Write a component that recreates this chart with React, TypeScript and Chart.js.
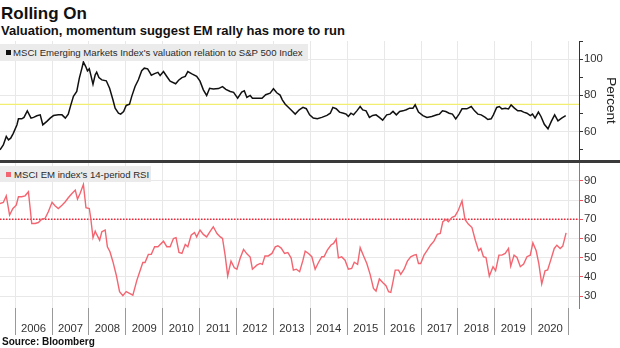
import React, { useEffect, useRef } from "react";
import { Chart, registerables } from "chart.js";

Chart.register(...registerables);

const FONT = "'Liberation Sans', Arial, sans-serif";

const X_MIN = 2005.59;
const X_MAX = 2021.28;

const yearBoundaries = [2006, 2007, 2008, 2009, 2010, 2011, 2012, 2013, 2014, 2015, 2016, 2017, 2018, 2019, 2020, 2021];
const yearLabels = ["2006", "2007", "2008", "2009", "2010", "2011", "2012", "2013", "2014", "2015", "2016", "2017", "2018", "2019", "2020"];

const valuationTicks = [50, 60, 70, 80, 90, 100, 110];
const rsiTicks = [30, 40, 50, 60, 70, 80, 90];

const valuationAverage = 75;
const rsiOverbought = 70;

const valuationDates = [
  2005.59, 2005.68, 2005.76, 2005.82, 2005.88, 2005.95, 2006.05, 2006.09, 2006.18, 2006.24,
  2006.33, 2006.43, 2006.5, 2006.59, 2006.68, 2006.75, 2006.86, 2006.95, 2007.04, 2007.17,
  2007.27, 2007.36, 2007.44, 2007.51, 2007.58, 2007.67, 2007.74, 2007.81, 2007.85, 2007.91,
  2007.96, 2008.01, 2008.05, 2008.11, 2008.17, 2008.21, 2008.27, 2008.35, 2008.47, 2008.56,
  2008.65, 2008.71, 2008.8, 2008.86, 2008.94, 2009.01, 2009.1, 2009.16, 2009.25, 2009.34,
  2009.43, 2009.5, 2009.59, 2009.66, 2009.69, 2009.78, 2009.87, 2009.93, 2010.02, 2010.11,
  2010.2, 2010.35, 2010.43, 2010.52, 2010.61, 2010.68, 2010.79, 2010.92, 2011.01, 2011.1,
  2011.19, 2011.27, 2011.37, 2011.51, 2011.62, 2011.71, 2011.83, 2011.92, 2012.03, 2012.14,
  2012.21, 2012.28, 2012.37, 2012.43, 2012.55, 2012.69, 2012.79, 2012.91, 2013.0, 2013.09,
  2013.18, 2013.24, 2013.32, 2013.41, 2013.5, 2013.59, 2013.7, 2013.8, 2013.89, 2013.98,
  2014.08, 2014.19, 2014.31, 2014.45, 2014.54, 2014.61, 2014.7, 2014.79, 2014.9, 2014.97,
  2015.03, 2015.1, 2015.17, 2015.26, 2015.35, 2015.42, 2015.51, 2015.6, 2015.69, 2015.78,
  2015.87, 2015.96, 2016.07, 2016.16, 2016.24, 2016.33, 2016.42, 2016.51, 2016.6, 2016.69,
  2016.78, 2016.84, 2016.93, 2017.05, 2017.16, 2017.29, 2017.43, 2017.5, 2017.58, 2017.67,
  2017.76, 2017.85, 2017.94, 2018.03, 2018.11, 2018.24, 2018.36, 2018.45, 2018.54, 2018.63,
  2018.74, 2018.81, 2018.9, 2018.96, 2019.05, 2019.12, 2019.19, 2019.28, 2019.37, 2019.44,
  2019.53, 2019.62, 2019.71, 2019.78, 2019.87, 2019.96, 2020.02, 2020.09, 2020.18, 2020.25,
  2020.34, 2020.44, 2020.53, 2020.62, 2020.71, 2020.81, 2020.92,
];

const valuationValues = [
  49.9, 52.6, 57.3, 55.4, 56.3, 59, 63.7, 67, 67, 67.8,
  71.4, 67.4, 67.8, 68.7, 69.2, 63.7, 65.6, 67.4, 68.8, 69.2,
  69.2, 67.4, 69.6, 74.7, 79.4, 82.1, 89.5, 95, 98.4, 96,
  93.5, 94.6, 91.3, 86.1, 91.3, 92.8, 89.8, 88.5, 88, 83.9,
  77.5, 72.9, 70.1, 69.6, 71, 74.4, 75.1, 79.4, 84.9, 88.6,
  93.6, 95, 94.6, 92.2, 91.1, 92, 92.7, 90.9, 93.1, 90.4,
  87.8, 86.4, 88.3, 89.8, 90.4, 93.1, 91.8, 90.5, 87.8, 83,
  79.9, 83.9, 83.5, 83.7, 84.8, 83.3, 82.1, 81.6, 78.4, 81.8,
  82.5, 78.8, 79.9, 78.4, 78.4, 78.4, 80.3, 81.2, 83.6, 81.4,
  80.1, 77.5, 75.1, 73.3, 71.5, 69.6, 72, 73.3, 72.6, 69.2,
  67.4, 67, 67.8, 68.9, 70.1, 73.3, 72.6, 70.7, 70.1, 69.6,
  68.3, 70.1, 69.2, 71.4, 73.8, 71.9, 71.4, 67.8, 68.9, 69.2,
  67.8, 66.3, 69.2, 69.6, 71.1, 69.2, 71.1, 71.4, 72, 72.9,
  72.9, 74.7, 70.7, 68.8, 67.8, 68.3, 69.2, 69.6, 71.4, 71,
  70.1, 69.6, 67, 69.6, 72.5, 72.5, 73.8, 71.4, 69.6, 69.2,
  67.8, 66.6, 67, 69.2, 73.3, 73.8, 72.5, 72.9, 72.5, 74.7,
  72.9, 71.4, 71.4, 70.7, 70.1, 68.8, 69.6, 67.4, 70.7, 68.3,
  64, 61.5, 65.6, 69.2, 65.9, 67.4, 68.8,
];

const rsiDates = [
  2005.59, 2005.68, 2005.76, 2005.85, 2005.94, 2006.03, 2006.09, 2006.18, 2006.27, 2006.36,
  2006.45, 2006.54, 2006.63, 2006.72, 2006.81, 2006.9, 2007.0, 2007.08, 2007.17, 2007.27,
  2007.36, 2007.44, 2007.54, 2007.63, 2007.69, 2007.76, 2007.85, 2007.92, 2008.01, 2008.05,
  2008.11, 2008.17, 2008.21, 2008.29, 2008.35, 2008.44, 2008.5, 2008.57, 2008.65, 2008.74,
  2008.83, 2008.92, 2009.01, 2009.1, 2009.19, 2009.3, 2009.39, 2009.46, 2009.52, 2009.61,
  2009.69, 2009.78, 2009.87, 2010.02, 2010.11, 2010.2, 2010.29, 2010.36, 2010.44, 2010.52,
  2010.61, 2010.68, 2010.77, 2010.86, 2010.92, 2011.01, 2011.1, 2011.19, 2011.28, 2011.37,
  2011.47, 2011.56, 2011.62, 2011.69, 2011.76, 2011.85, 2011.94, 2012.01, 2012.1, 2012.19,
  2012.28, 2012.37, 2012.43, 2012.55, 2012.64, 2012.7, 2012.77, 2012.86, 2012.96, 2013.05,
  2013.12, 2013.21, 2013.3, 2013.39, 2013.48, 2013.54, 2013.62, 2013.71, 2013.8, 2013.86,
  2013.95, 2014.04, 2014.13, 2014.22, 2014.31, 2014.37, 2014.46, 2014.56, 2014.63, 2014.7,
  2014.76, 2014.85, 2014.94, 2015.03, 2015.12, 2015.19, 2015.28, 2015.35, 2015.44, 2015.53,
  2015.62, 2015.71, 2015.78, 2015.87, 2015.96, 2016.05, 2016.12, 2016.18, 2016.24, 2016.3,
  2016.39, 2016.45, 2016.54, 2016.63, 2016.72, 2016.81, 2016.87, 2016.93, 2016.99, 2017.08,
  2017.17, 2017.26, 2017.35, 2017.44, 2017.52, 2017.59, 2017.68, 2017.74, 2017.84, 2017.92,
  2018.01, 2018.11, 2018.15, 2018.19, 2018.28, 2018.38, 2018.47, 2018.56, 2018.62, 2018.69,
  2018.76, 2018.85, 2018.95, 2019.02, 2019.11, 2019.19, 2019.28, 2019.37, 2019.43, 2019.52,
  2019.6, 2019.69, 2019.78, 2019.87, 2019.96, 2020.03, 2020.12, 2020.19, 2020.27, 2020.36,
  2020.43, 2020.52, 2020.61, 2020.68, 2020.77, 2020.84, 2020.93,
];

const rsiValues = [
  78.2, 78.7, 82.2, 72.2, 75.6, 77.3, 81.7, 81.7, 82.2, 84.3,
  67.8, 67.8, 68.3, 70, 70.4, 73.9, 78.8, 77, 75.6, 77.3,
  79.1, 81.2, 83.4, 85.2, 80.5, 83.4, 88.1, 76, 75.6, 70.4,
  60.4, 63.8, 62.1, 59.1, 63.5, 64.4, 55.7, 53.1, 47.9, 41,
  32.3, 30.2, 32.3, 31.4, 30.5, 38.3, 43.5, 47.5, 47.5, 51.7,
  51.7, 55.7, 55.7, 58.6, 55.7, 55.7, 60, 60.4, 52.7, 52.2,
  56.9, 55.7, 61.7, 63.1, 60.8, 64.4, 62.1, 60.8, 63.5, 66.1,
  62.6, 60.8, 60, 51.3, 40.5, 48.2, 44.7, 44, 49.8, 54.3,
  52, 50.3, 44, 46.1, 47, 46.5, 50.9, 50.9, 52.2, 55.6,
  56.2, 55, 52.2, 52.7, 49.8, 43.5, 44, 42.7, 48.7, 53.4,
  52.2, 50.5, 44, 47.5, 50.5, 50.5, 53.9, 56.6, 57.4, 59.7,
  49.9, 50.4, 48.7, 44, 44.4, 47.6, 46.5, 55.2, 51, 47,
  41.3, 34, 32.6, 38.9, 37.1, 35.4, 32.3, 31.9, 37.5, 43.5,
  43.5, 41.3, 44, 48.2, 50.4, 51.3, 51.6, 47, 47, 51.3,
  53.9, 56.6, 58.6, 62.1, 62.6, 68.7, 69.9, 68.7, 71, 71.6,
  74.7, 79.6, 74.7, 69.9, 67.5, 65.7, 59.1, 53.6, 54.8, 50.5,
  50.1, 40.4, 45.3, 43.2, 51.3, 51.3, 52.2, 54.8, 45.6, 51.3,
  50.1, 45.3, 46.7, 50.5, 51.3, 57.7, 53.6, 47, 36.3, 43.2,
  43.6, 49.1, 54.8, 56.5, 54.8, 56, 62.9,
];

const pairs = (xs: number[], ys: number[]) => xs.map((x, i) => ({ x, y: ys[i] }));

const isBoundary = (v: number) => Math.abs(v - Math.round(v)) < 1e-6;

function zeroPad(s: any) {
  s.paddingTop = 0;
  s.paddingBottom = 0;
  s.paddingLeft = 0;
  s.paddingRight = 0;
}

export default function App() {
  const topRef = useRef<HTMLCanvasElement | null>(null);
  const botRef = useRef<HTMLCanvasElement | null>(null);

  useEffect(() => {
    Chart.defaults.font.family = FONT;
    const tickFont = { family: FONT, size: 11.3 };

    const topChart = new Chart(topRef.current as HTMLCanvasElement, {
      type: "line",
      data: {
        datasets: [
          {
            data: pairs(valuationDates, valuationValues),
            borderColor: "#111111",
            borderWidth: 1.5,
            pointRadius: 0,
            tension: 0,
            order: 1,
          },
          {
            data: [
              { x: X_MIN, y: valuationAverage },
              { x: X_MAX, y: valuationAverage },
            ],
            borderColor: "#f2ee72",
            borderWidth: 1.4,
            pointRadius: 0,
            order: 2,
          },
        ],
      },
      options: {
        responsive: false,
        animation: false,
        events: [],
        layout: { padding: 0 },
        plugins: { legend: { display: false }, tooltip: { enabled: false }, title: { display: false } },
        scales: {
          x: {
            type: "linear",
            min: X_MIN,
            max: X_MAX,
            afterBuildTicks: (s: any) => {
              s.ticks = yearBoundaries.map((v) => ({ value: v }));
            },
            ticks: { display: false },
            grid: { color: "#e8e8e8", drawTicks: false, lineWidth: 1 },
            border: { display: false },
            afterFit: (s: any) => {
              s.height = 0;
              zeroPad(s);
            },
          },
          y: {
            type: "linear",
            position: "right",
            min: 44.25,
            max: 110,
            afterBuildTicks: (s: any) => {
              s.ticks = valuationTicks.map((v) => ({ value: v }));
            },
            ticks: {
              color: "#333333",
              font: tickFont,
              padding: 1,
              callback: (v: any) => (Number(v) % 20 === 0 ? String(v) : ""),
            },
            grid: {
              color: (ctx: any) => (ctx.tick && ctx.tick.value % 20 === 0 && ctx.tick.value !== 110 ? "#e8e8e8" : "rgba(0,0,0,0)"),
              tickColor: "#333333",
              tickLength: 4,
            },
            border: { color: "#333333", width: 1 },
            title: {
              display: true,
              text: "Percent",
              color: "#222222",
              font: { family: FONT, size: 13.5 },
              padding: { top: 1, bottom: 0 },
            },
            afterFit: (s: any) => {
              s.width = 41;
              zeroPad(s);
            },
          },
        },
      },
    } as any);

    const botChart = new Chart(botRef.current as HTMLCanvasElement, {
      type: "line",
      data: {
        datasets: [
          {
            data: pairs(rsiDates, rsiValues),
            borderColor: "#f36570",
            borderWidth: 1.4,
            pointRadius: 0,
            tension: 0,
            order: 1,
          },
          {
            data: [
              { x: X_MIN, y: rsiOverbought },
              { x: X_MAX, y: rsiOverbought },
            ],
            borderColor: "#ea2a3a",
            borderWidth: 1.3,
            borderDash: [1.5, 1.5],
            pointRadius: 0,
            order: 2,
          },
        ],
      },
      options: {
        responsive: false,
        animation: false,
        events: [],
        layout: { padding: 0 },
        plugins: { legend: { display: false }, tooltip: { enabled: false }, title: { display: false } },
        scales: {
          x: {
            type: "linear",
            min: X_MIN,
            max: X_MAX,
            afterBuildTicks: (s: any) => {
              const t: { value: number }[] = [];
              yearBoundaries.forEach((v, i) => {
                t.push({ value: v });
                if (i < yearLabels.length) t.push({ value: v + 0.5 });
              });
              s.ticks = t;
            },
            ticks: {
              color: "#333333",
              font: tickFont,
              padding: -13,
              maxRotation: 0,
              minRotation: 0,
              autoSkip: false,
              callback: (v: any) => {
                const n = Number(v);
                if (isBoundary(n)) return "";
                const idx = yearBoundaries.indexOf(Math.floor(n));
                return idx >= 0 && idx < yearLabels.length ? yearLabels[idx] : "";
              },
            },
            grid: {
              color: (ctx: any) => (ctx.tick && isBoundary(ctx.tick.value) ? "#e8e8e8" : "rgba(0,0,0,0)"),
              tickColor: (ctx: any) => (ctx.tick && isBoundary(ctx.tick.value) ? "#999999" : "rgba(0,0,0,0)"),
              tickLength: 27,
              lineWidth: 1,
            },
            border: { display: false },
            afterFit: (s: any) => {
              s.height = 40;
              zeroPad(s);
            },
          },
          y: {
            type: "linear",
            position: "right",
            min: 23.8,
            max: 99.8,
            afterBuildTicks: (s: any) => {
              s.ticks = rsiTicks.map((v) => ({ value: v }));
            },
            ticks: {
              color: "#333333",
              font: tickFont,
              padding: 1,
            },
            grid: {
              color: "#e8e8e8",
              tickColor: "#f0505e",
              tickLength: 4,
            },
            border: { color: "#f0505e", width: 1 },
            afterFit: (s: any) => {
              s.width = 41;
              zeroPad(s);
            },
          },
        },
      },
    } as any);

    return () => {
      topChart.destroy();
      botChart.destroy();
    };
  }, []);

  const legendBox: React.CSSProperties = {
    position: "absolute",
    left: 0,
    display: "flex",
    alignItems: "center",
    background: "#ebebeb",
    fontFamily: FONT,
    fontSize: 9.6,
    color: "#2a2a2a",
    whiteSpace: "nowrap",
    boxSizing: "border-box",
  };

  return (
    <div
      style={{
        position: "absolute",
        left: 0,
        top: 0,
        width: 620,
        height: 348,
        background: "#ffffff",
        overflow: "hidden",
        fontFamily: FONT,
      }}
    >
      <div style={{ position: "absolute", left: 1, top: 5, fontSize: 17, lineHeight: "17px", fontWeight: 700, color: "#111" }}>
        Rolling On
      </div>
      <div style={{ position: "absolute", left: 1, top: 24, fontSize: 13, lineHeight: "13px", fontWeight: 700, color: "#111" }}>
        Valuation, momentum suggest EM rally has more to run
      </div>

      <canvas ref={topRef} width={620} height={119} style={{ position: "absolute", left: 0, top: 41, display: "block" }} />
      <canvas ref={botRef} width={620} height={186} style={{ position: "absolute", left: 0, top: 162, display: "block" }} />

      <div style={{ position: "absolute", left: 0, top: 160, width: 620, height: 3, background: "#3a3a3a" }} />

      <div style={{ ...legendBox, top: 44, height: 17, paddingLeft: 6, paddingRight: 5 }}>
        <span style={{ display: "inline-block", width: 5, height: 5, background: "#111", marginRight: 2 }} />
        <span>MSCI Emerging Markets Index's valuation relation to S&amp;P 500 Index</span>
      </div>
      <div style={{ ...legendBox, top: 166, height: 16, paddingLeft: 6, paddingRight: 2 }}>
        <span style={{ display: "inline-block", width: 5, height: 5, background: "#f36570", marginRight: 3 }} />
        <span>MSCI EM index's 14-period RSI</span>
      </div>

      <div style={{ position: "absolute", left: 2, top: 337, fontSize: 10, lineHeight: "10px", fontWeight: 700, color: "#111" }}>
        Source: Bloomberg
      </div>
    </div>
  );
}
